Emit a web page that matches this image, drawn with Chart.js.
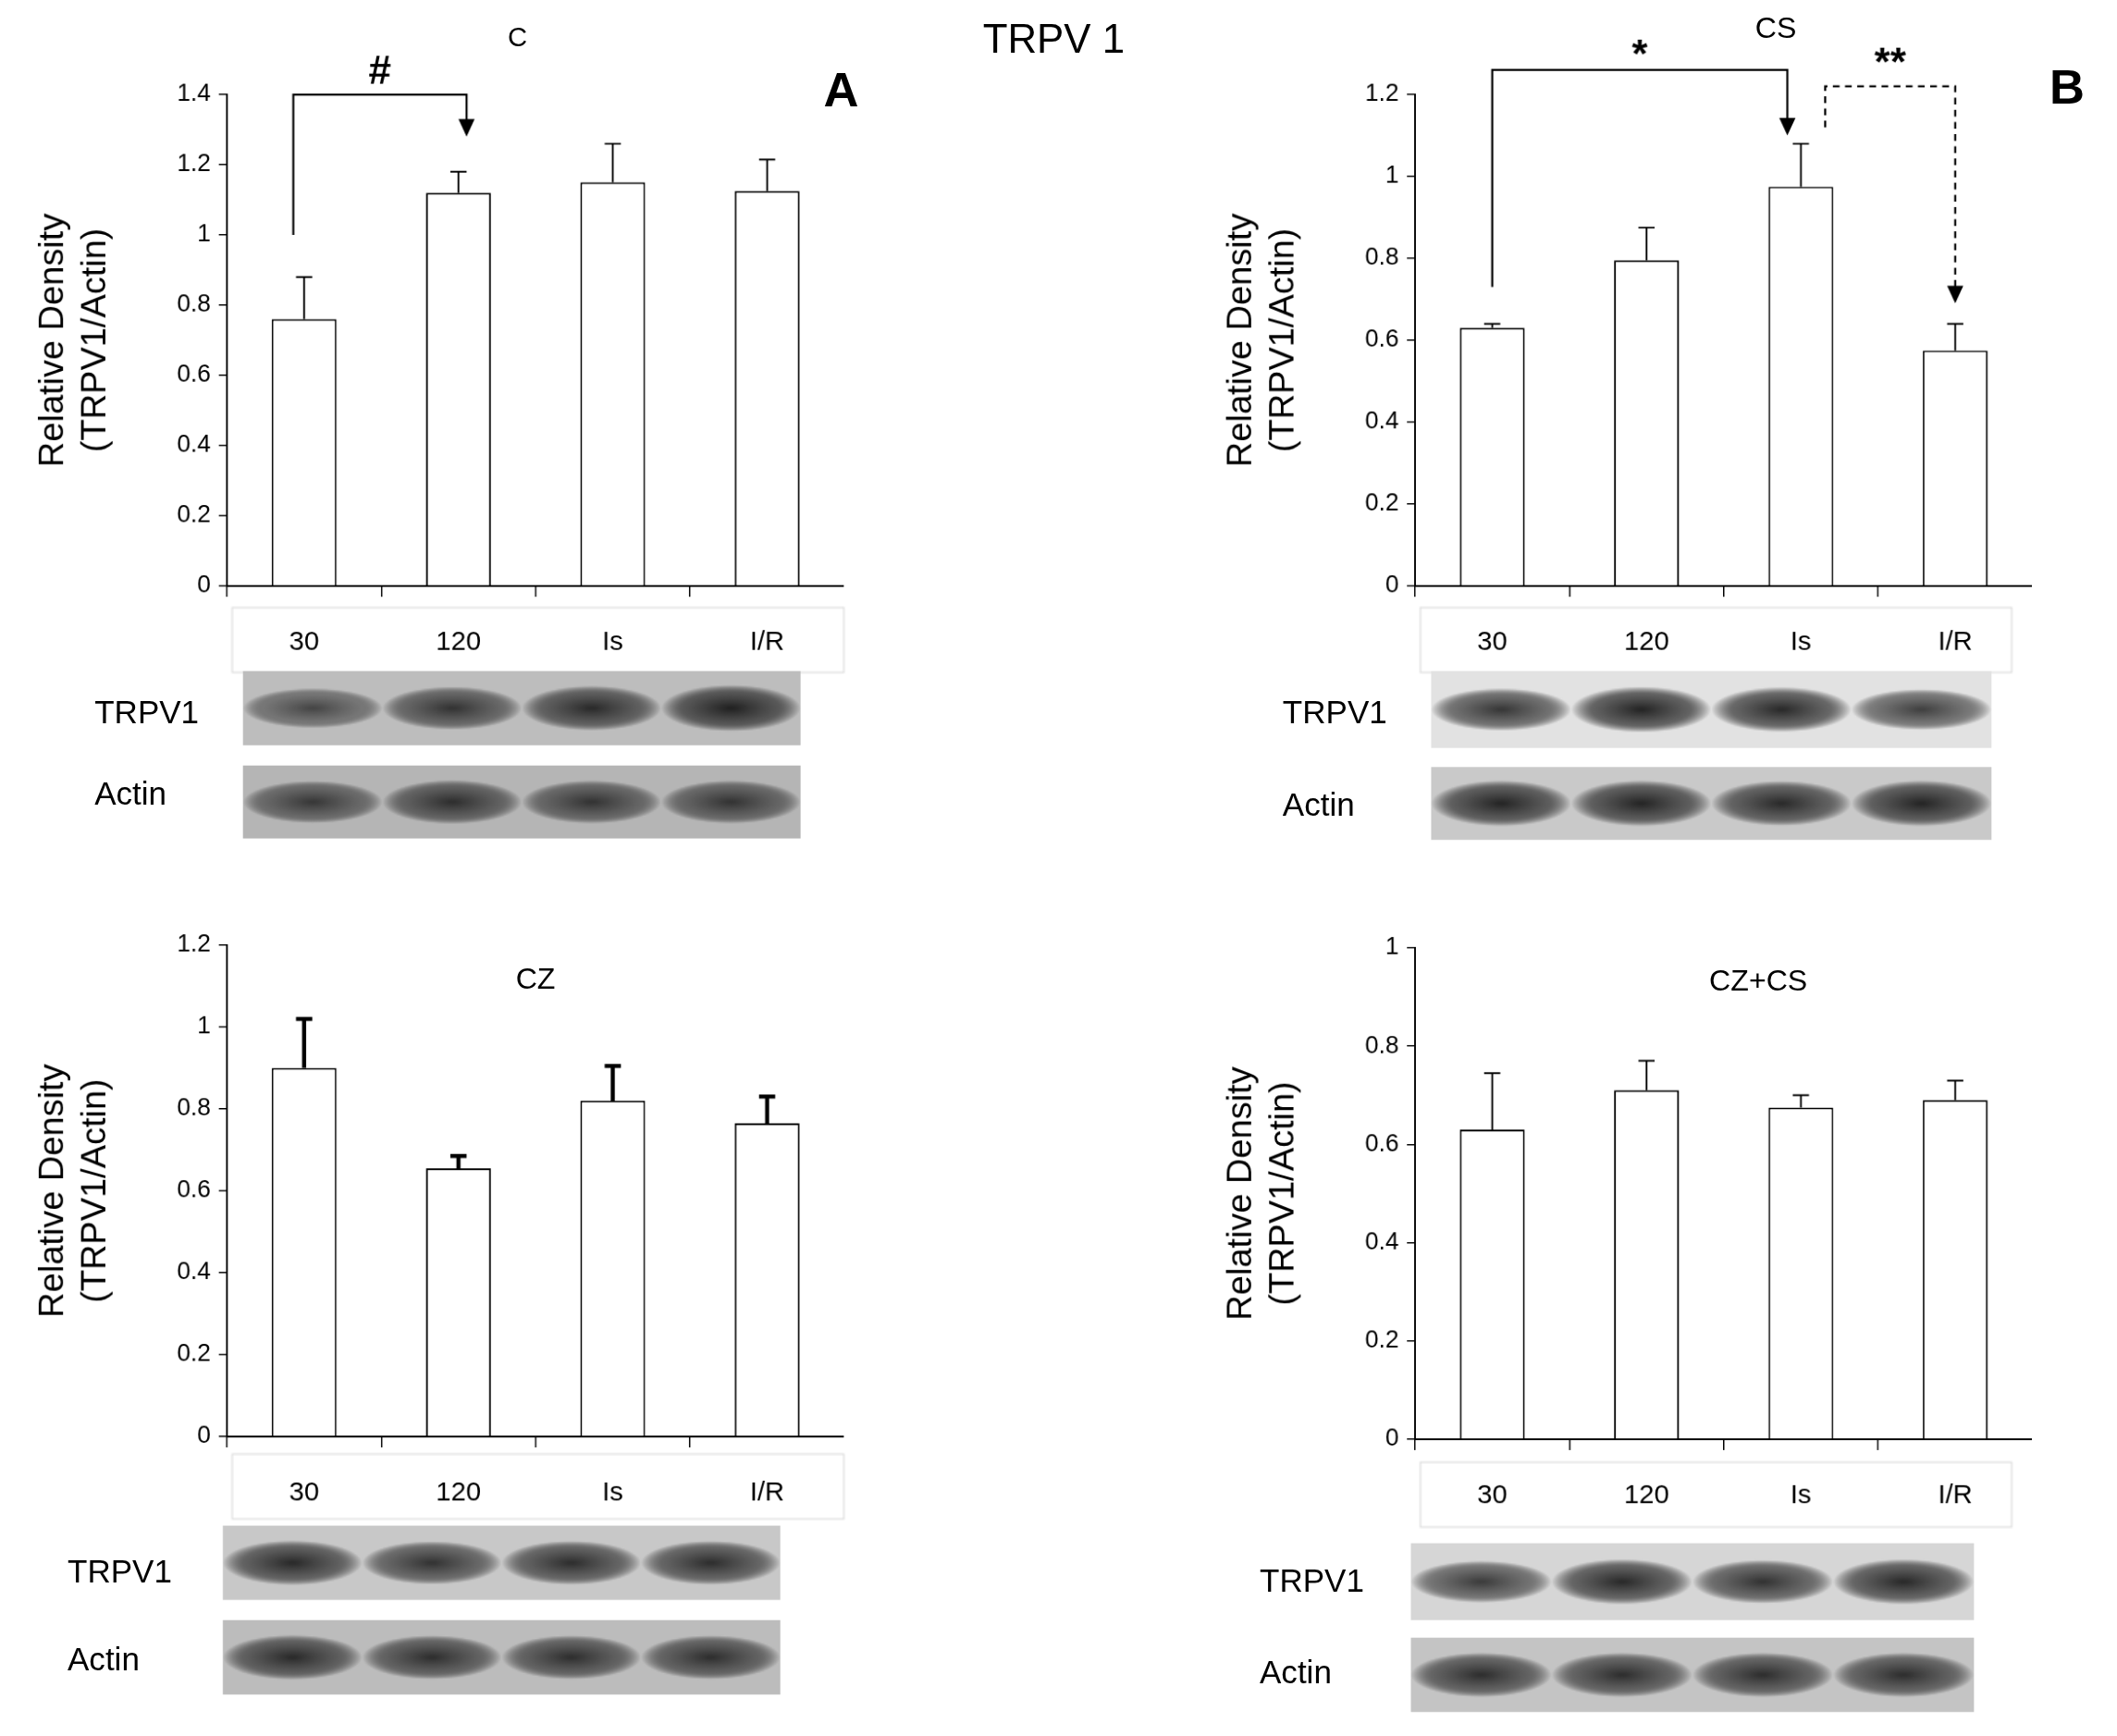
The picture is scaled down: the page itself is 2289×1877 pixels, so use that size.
<!DOCTYPE html>
<html>
<head>
<meta charset="utf-8">
<script src="https://cdn.jsdelivr.net/npm/chart.js"></script>
<style>
  body { margin: 0; background: #fff; overflow: hidden; }
  #wrap { position: absolute; left: 0; top: 0; width: 1568px; height: 1285px; transform: scale(1.4598); transform-origin: 0 0; font-family: "Liberation Sans", Arial, sans-serif; }
  .panel { position: absolute; }
  .txt { position: absolute; color: #000; white-space: nowrap; }
  #blots { position: absolute; left: 0; top: 0; }
</style>
</head>
<body>
<div id="wrap">
  <canvas id="blots" width="1568" height="1285"></canvas>
  <div class="panel" style="left:20px;top:10px;width:605px;height:500px"><canvas id="cA"></canvas></div>
  <div class="panel" style="left:900px;top:10px;width:605px;height:500px"><canvas id="cB"></canvas></div>
  <div class="panel" style="left:20px;top:640px;width:605px;height:500px"><canvas id="cC"></canvas></div>
  <div class="panel" style="left:900px;top:642px;width:605px;height:500px"><canvas id="cD"></canvas></div>

  <div class="txt" style="left:728px;top:12px;font-size:30px">TRPV 1</div>
  <div class="txt" style="left:376px;top:16px;font-size:20px">C</div>
  <div class="txt" style="left:610px;top:46px;font-size:36px;font-weight:bold">A</div>
  <div class="txt" style="left:1300px;top:8px;font-size:22px">CS</div>
  <div class="txt" style="left:1518px;top:44px;font-size:36px;font-weight:bold">B</div>
  <div class="txt" style="left:382px;top:712px;font-size:22px">CZ</div>
  <div class="txt" style="left:1266px;top:714px;font-size:22px">CZ+CS</div>

  <div class="txt" style="left:70px;top:514px;font-size:24px">TRPV1</div>
  <div class="txt" style="left:70px;top:574px;font-size:24px">Actin</div>
  <div class="txt" style="left:950px;top:514px;font-size:24px">TRPV1</div>
  <div class="txt" style="left:950px;top:582px;font-size:24px">Actin</div>
  <div class="txt" style="left:50px;top:1150px;font-size:24px">TRPV1</div>
  <div class="txt" style="left:50px;top:1215px;font-size:24px">Actin</div>
  <div class="txt" style="left:933px;top:1157px;font-size:24px">TRPV1</div>
  <div class="txt" style="left:933px;top:1225px;font-size:24px">Actin</div>
</div>
<script>
const categories = ['30', '120', 'Is', 'I/R'];

const valuesC = [0.76, 1.12, 1.15, 1.125];
const errorsC = [0.12, 0.06, 0.11, 0.09];
const valuesCS = [0.63, 0.795, 0.975, 0.575];
const errorsCS = [0.01, 0.08, 0.105, 0.065];
const valuesCZ = [0.90, 0.655, 0.82, 0.765];
const errorsCZ = [0.12, 0.03, 0.085, 0.065];
const valuesCZCS = [0.63, 0.71, 0.675, 0.69];
const errorsCZCS = [0.115, 0.06, 0.025, 0.04];

// blot band intensity (0..1) per lane
const trpv1A = [0.55, 0.75, 0.85, 0.95];
const actinA = [0.7, 0.8, 0.75, 0.75];
const trpv1B = [0.7, 0.9, 0.85, 0.6];
const actinB = [0.9, 0.9, 0.85, 0.9];
const trpv1C = [0.85, 0.75, 0.8, 0.8];
const actinC = [0.85, 0.8, 0.8, 0.8];
const trpv1D = [0.65, 0.85, 0.75, 0.85];
const actinD = [0.8, 0.8, 0.8, 0.8];

const FONT = '"Liberation Sans", Arial, sans-serif';

const errorBars = {
  id: 'errorBars',
  afterDatasetsDraw(chart) {
    const errs = chart.options.plugins.errorBars.errors;
    const thick = chart.options.plugins.errorBars.thick;
    const ctx = chart.ctx;
    const meta = chart.getDatasetMeta(0);
    const y = chart.scales.y;
    ctx.save();
    ctx.strokeStyle = '#000';
    meta.data.forEach((bar, i) => {
      const v = chart.data.datasets[0].data[i];
      const top = y.getPixelForValue(v + errs[i]);
      ctx.lineWidth = thick ? 3 : 1.3;
      ctx.beginPath();
      ctx.moveTo(bar.x, bar.y);
      ctx.lineTo(bar.x, top);
      ctx.moveTo(bar.x - 6, top);
      ctx.lineTo(bar.x + 6, top);
      ctx.stroke();
    });
    ctx.restore();
  }
};

function arrowHead(ctx, x, y) {
  ctx.beginPath();
  ctx.moveTo(x, y);
  ctx.lineTo(x - 6, y - 13);
  ctx.lineTo(x + 6, y - 13);
  ctx.closePath();
  ctx.fill();
}

const brackets = {
  id: 'brackets',
  afterDraw(chart) {
    const list = chart.options.plugins.brackets.list;
    if (!list) return;
    const ctx = chart.ctx, x = chart.scales.x, y = chart.scales.y;
    ctx.save();
    ctx.strokeStyle = '#000';
    ctx.fillStyle = '#000';
    ctx.lineWidth = 1.5;
    list.forEach(b => {
      const x1 = x.getPixelForValue(b.from) + (b.dx1 || 0);
      const x2 = x.getPixelForValue(b.to) + (b.dx2 || 0);
      const yTop = y.getPixelForValue(b.top);
      const yStart = y.getPixelForValue(b.start);
      const yEnd = y.getPixelForValue(b.end);
      ctx.setLineDash(b.dashed ? [5, 4] : []);
      ctx.beginPath();
      ctx.moveTo(x1, yStart);
      ctx.lineTo(x1, yTop);
      ctx.lineTo(x2, yTop);
      ctx.lineTo(x2, yEnd - 12);
      ctx.stroke();
      ctx.setLineDash([]);
      arrowHead(ctx, x2, yEnd);
      ctx.font = 'bold 30px ' + FONT;
      ctx.textAlign = 'center';
      ctx.fillText(b.label, (x1 + x2) / 2 + (b.lx || 0), yTop - 8 + (b.ly || 0));
    });
    ctx.restore();
  }
};

function makeChart(id, values, errors, max, thick, list) {
  return new Chart(document.getElementById(id), {
    type: 'bar',
    data: {
      labels: categories,
      datasets: [{
        data: values,
        backgroundColor: '#fff',
        borderColor: '#000',
        borderWidth: 1.3,
        barPercentage: 0.42,
        categoryPercentage: 1
      }]
    },
    options: {
      responsive: true,
      maintainAspectRatio: false,
      animation: false,
      devicePixelRatio: 1.5,
      layout: { padding: { top: 60, right: 0 } },
      plugins: {
        legend: { display: false },
        tooltip: { enabled: false },
        errorBars: { errors: errors, thick: thick },
        brackets: { list: list }
      },
      scales: {
        x: {
          afterFit: s => { s.height = 76; },
          grid: { offset: true, drawOnChartArea: false, tickLength: 8, color: '#000' },
          border: { color: '#000', width: 1.3 },
          ticks: { color: '#000', padding: 22, font: { family: FONT, size: 20 } }
        },
        y: {
          min: 0, max: max,
          afterFit: s => { s.width = 148; },
          grid: { drawOnChartArea: false, tickLength: 6, color: '#000' },
          border: { color: '#000', width: 1.3 },
          ticks: { stepSize: 0.2, color: '#000', padding: 6, font: { family: FONT, size: 18 },
                   callback: v => Math.round(v * 10) / 10 },
          title: { display: true, text: ['Relative Density', '(TRPV1/Actin)'], color: '#000',
                   font: { family: FONT, size: 26 }, padding: { bottom: 12 } }
        }
      }
    },
    plugins: [errorBars, brackets]
  });
}

makeChart('cA', valuesC, errorsC, 1.4, false, [
  { from: 0, to: 1, dx1: -8, dx2: 6, start: 1.0, top: 1.4, end: 1.28, label: '#' }
]);
makeChart('cB', valuesCS, errorsCS, 1.2, false, [
  { from: 0, to: 2, start: 0.73, top: 1.26, end: 1.1, dx2: -10, label: '*', ly: 6 },
  { from: 2, to: 3, dx1: 18, start: 1.12, top: 1.22, end: 0.69, dashed: true, label: '**' }
]);
makeChart('cC', valuesCZ, errorsCZ, 1.2, true, null);
makeChart('cD', valuesCZCS, errorsCZCS, 1.0, false, null);

// western blot strips
const bctx = document.getElementById('blots').getContext('2d');
function blot(x, y, w, h, lanes, bg) {
  bctx.fillStyle = bg;
  bctx.fillRect(x, y, w, h);
  const lw = w / lanes.length;
  lanes.forEach((k, i) => {
    const cx = x + lw * (i + 0.5), cy = y + h / 2;
    const g = bctx.createRadialGradient(cx, cy, 2, cx, cy, lw * 0.5);
    const a = Math.round(30 + (1 - k) * 90);
    g.addColorStop(0, `rgba(${a},${a},${a},1)`);
    g.addColorStop(0.7, `rgba(${a + 30},${a + 30},${a + 30},0.8)`);
    g.addColorStop(1, 'rgba(0,0,0,0)');
    bctx.save();
    bctx.translate(cx, cy);
    bctx.scale(1, 0.22 + k * 0.12);
    bctx.translate(-cx, -cy);
    bctx.fillStyle = g;
    bctx.beginPath();
    bctx.arc(cx, cy, lw * 0.5, 0, Math.PI * 2);
    bctx.fill();
    bctx.restore();
  });
}
// label row boxes
bctx.strokeStyle = '#ddd';
[[172, 450, 453, 48], [1052, 450, 438, 48], [172, 1077, 453, 48], [1052, 1083, 438, 48]].forEach(r => bctx.strokeRect(...r));

blot(180, 497, 413, 55, trpv1A, '#bdbdbd');
blot(180, 567, 413, 54, actinA, '#b5b5b5');
blot(1060, 497, 415, 57, trpv1B, '#e2e2e2');
blot(1060, 568, 415, 54, actinB, '#c9c9c9');
blot(165, 1130, 413, 55, trpv1C, '#c8c8c8');
blot(165, 1200, 413, 55, actinC, '#bcbcbc');
blot(1045, 1143, 417, 57, trpv1D, '#d6d6d6');
blot(1045, 1213, 417, 55, actinD, '#c4c4c4');
</script>
</body>
</html>
